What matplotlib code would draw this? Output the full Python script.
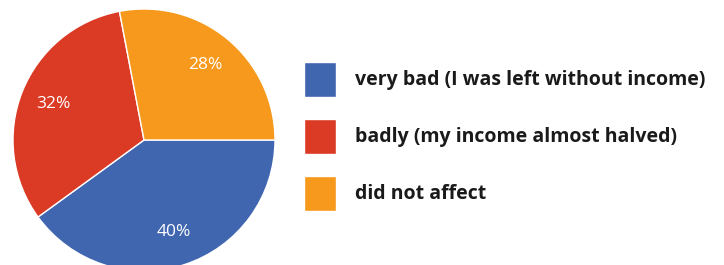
import matplotlib
matplotlib.use("Agg")
import matplotlib.pyplot as plt

# data
categories = ["very bad (I was left without income)",
              "badly (my income almost halved)",
              "did not affect"]
shares = [40, 32, 28]
colors = ["#4066B0", "#DB3A25", "#F7991C"]

W, H = 724, 265
fig = plt.figure(figsize=(W / 100, H / 100), dpi=100)
fig.patch.set_facecolor("white")

# pie: centre (144, 140) px, radius 131 px
cx, cy, r = 144, 140, 131
ax = fig.add_axes([(cx - r) / W, (H - cy - r) / H, 2 * r / W, 2 * r / H])
wedges, texts, autotexts = ax.pie(
    shares, colors=colors, startangle=0, counterclock=False,
    autopct="%d%%", pctdistance=0.74,
    wedgeprops=dict(edgecolor="white", linewidth=1),
    textprops=dict(color="white", fontsize=12.5, family=["Open Sans", "DejaVu Sans"]),
)
ax.set_xlim(-1, 1)
ax.set_ylim(-1, 1)
ax.set_aspect("equal")
ax.axis("off")

fs = 14
px = fs * 100 / 72
# legend patch height = fs * (0.65 * handleheight + 0.245)
hh = (35 / px - 0.245) / 0.65
leg = fig.legend(
    wedges, categories, loc="upper left",
    bbox_to_anchor=(304 / W, 1 - 62 / H), bbox_transform=fig.transFigure,
    frameon=False, borderpad=0, borderaxespad=0,
    handlelength=32 / px, handleheight=hh,
    handletextpad=19 / px, labelspacing=22 / px,
    prop=dict(family=["Open Sans", "DejaVu Sans"], weight="bold", size=fs),
)
for t in leg.get_texts():
    t.set_color("#1a1a1a")

fig.savefig("out.png", dpi=100)
